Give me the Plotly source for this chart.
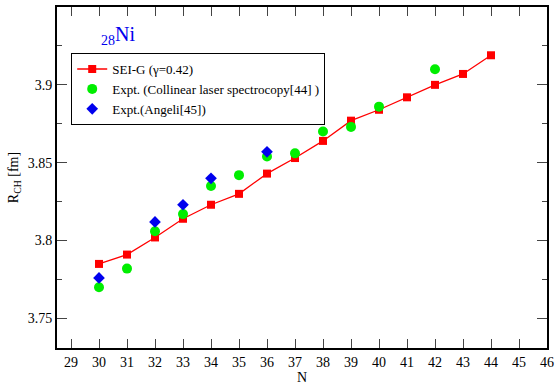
import plotly.graph_objects as go

N_sei = [30, 31, 32, 33, 34, 35, 36, 37, 38, 39, 40, 41, 42, 43, 44]
R_sei = [3.785, 3.791, 3.802, 3.814, 3.823, 3.830, 3.843, 3.853, 3.864, 3.877, 3.884, 3.892, 3.900, 3.907, 3.919]

N_col = [30, 31, 32, 33, 34, 35, 36, 37, 38, 39, 40, 42]
R_col = [3.770, 3.782, 3.806, 3.817, 3.835, 3.842, 3.854, 3.856, 3.870, 3.873, 3.886, 3.910]

N_ang = [30, 32, 33, 34, 36]
R_ang = [3.776, 3.812, 3.823, 3.840, 3.857]

x_ticks = list(range(29, 47))
y_ticks = [3.75, 3.8, 3.85, 3.9, 3.95]

FONT = "Liberation Serif"

fig = go.Figure()
fig.add_trace(go.Scatter(x=N_sei, y=R_sei, mode="lines+markers", name="SEI-G (γ=0.42)",
                         line=dict(color="#ff0000", width=1.3),
                         marker=dict(symbol="square", size=8, color="#ff0000")))
fig.add_trace(go.Scatter(x=N_col, y=R_col, mode="markers",
                         name="Expt. (Collinear laser spectrocopy[44] )",
                         marker=dict(symbol="circle", size=10, color="#00ee00")))
fig.add_trace(go.Scatter(x=N_ang, y=R_ang, mode="markers", name="Expt.(Angeli[45])",
                         marker=dict(symbol="diamond", size=9, color="#0000ee")))

fig.update_layout(
    width=559, height=387,
    margin=dict(l=57, r=5, t=5, b=35),
    paper_bgcolor="white", plot_bgcolor="white",
    font=dict(family=FONT, size=14, color="black"),
    showlegend=True,
    legend=dict(x=0.029, y=0.865, xanchor="left", yanchor="top",
                bordercolor="black", borderwidth=1, bgcolor="white",
                font=dict(family=FONT, size=13), tracegroupgap=0,
                itemwidth=30),
    annotations=[dict(x=30, y=3.932, xref="x", yref="y", xanchor="left",
                      text="<sub>28</sub>Ni", showarrow=False,
                      font=dict(family=FONT, size=20, color="#0000ee"))],
)
fig.update_xaxes(range=[28.5, 46], tickvals=x_ticks, ticks="inside", ticklen=9,
                 showline=True, linecolor="black", linewidth=2, mirror="ticks",
                 showgrid=False, zeroline=False,
                 title=dict(text="N", font=dict(family=FONT, size=14), standoff=2),
                 tickfont=dict(family=FONT, size=14))
fig.update_yaxes(range=[3.731, 3.95], tickvals=y_ticks, ticktext=["3.75", "3.8", "3.85", "3.9", "3.95"],
                 ticks="inside", ticklen=10,
                 minor=dict(tickvals=[3.775, 3.825, 3.875, 3.925], ticks="inside", ticklen=5),
                 showline=True, linecolor="black", linewidth=2, mirror="ticks",
                 showgrid=False, zeroline=False,
                 title=dict(text="R<sub>CH</sub> [fm]", font=dict(family=FONT, size=14), standoff=6),
                 tickfont=dict(family=FONT, size=14))

fig.write_html("out.html")
